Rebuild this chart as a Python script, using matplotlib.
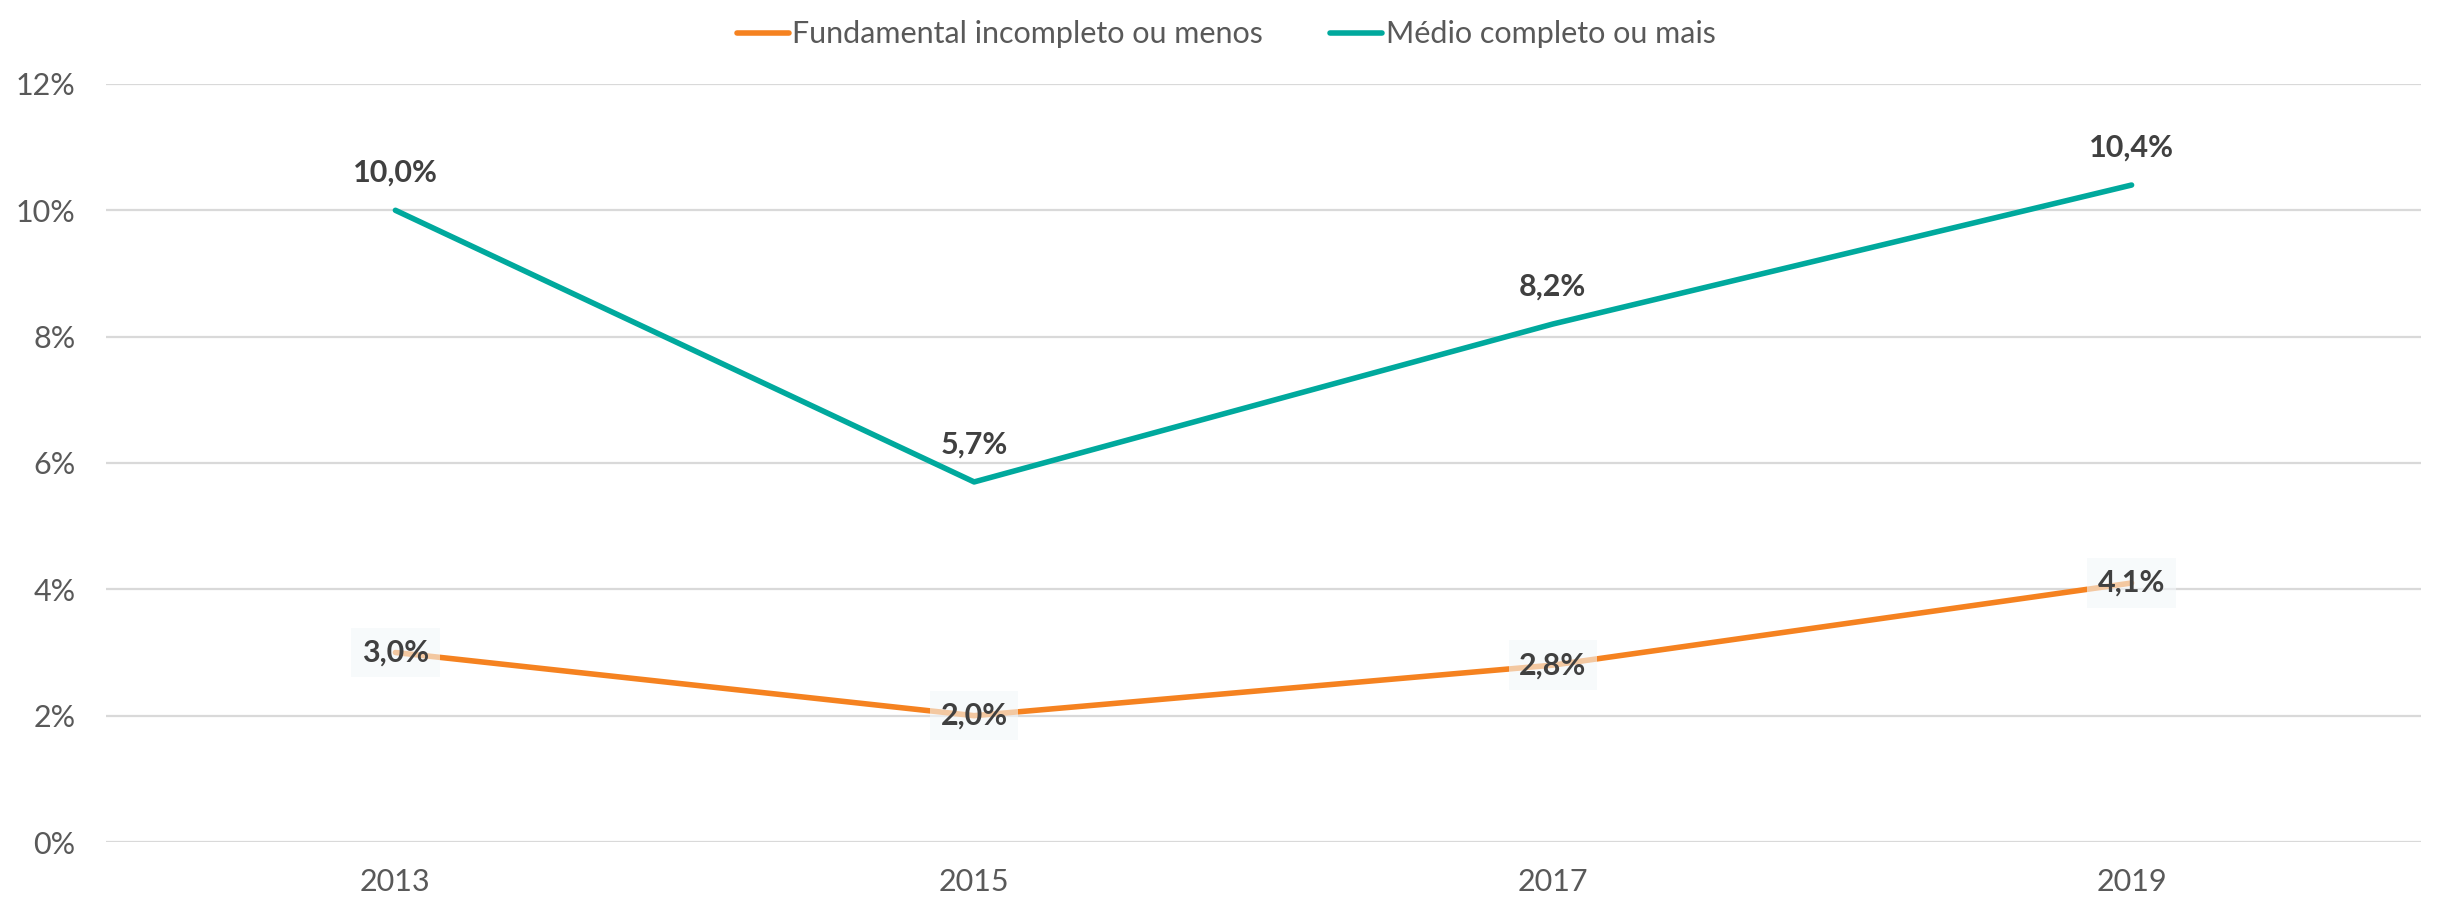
import matplotlib
matplotlib.use("Agg")
import matplotlib.pyplot as plt

anos = ["2013", "2015", "2017", "2019"]
fundamental = [3.0, 2.0, 2.8, 4.1]
medio = [10.0, 5.7, 8.2, 10.4]
rotulo_fund = "Fundamental incompleto ou menos"
rotulo_medio = "Médio completo ou mais"

plt.rcParams['font.family'] = ['Lato', 'DejaVu Sans']

laranja = '#F58220'
verde = '#00A99D'

fig = plt.figure(figsize=(24.38, 8.97), dpi=100)
ax = fig.add_axes([0.0435, 0.0613, 0.9495, 0.8451])

x = list(range(len(anos)))
ax.plot(x, fundamental, color=laranja, lw=4, label=rotulo_fund, solid_capstyle='round', zorder=3)
ax.plot(x, medio, color=verde, lw=4, label=rotulo_medio, solid_capstyle='round', zorder=3)

def fmt(v):
    return f"{v:.1f}%".replace('.', ',')

for xi, v in zip(x, medio):
    ax.annotate(fmt(v), (xi, v), xytext=(0, 27), textcoords='offset points',
                ha='center', va='center', fontsize=22, fontweight='bold', color='#404040', zorder=5)

for xi, v in zip(x, fundamental):
    ax.annotate(fmt(v), (xi, v), xytext=(0, 0), textcoords='offset points',
                ha='center', va='center', fontsize=22, fontweight='bold', color='#404040', zorder=5,
                bbox=dict(boxstyle='square,pad=0.35', facecolor='#f3f7f9', edgecolor='none', alpha=0.6))

ax.set_xlim(-0.5, len(anos) - 0.5)
ax.set_ylim(0, 12)
ax.set_yticks([0, 2, 4, 6, 8, 10, 12])
ax.set_yticklabels([f"{t}%" for t in [0, 2, 4, 6, 8, 10, 12]])
ax.set_xticks(x)
ax.set_xticklabels(anos)
ax.tick_params(axis='y', length=0, pad=22, labelsize=22, labelcolor='#595959')
ax.tick_params(axis='x', length=0, pad=19, labelsize=22, labelcolor='#595959')
ax.grid(axis='y', color='#d9d9d9', lw=1.6, zorder=0)
ax.set_axisbelow(True)
for s in ax.spines.values():
    s.set_visible(False)

fig.legend(loc='upper center', bbox_to_anchor=(0.503, 1.008), ncol=2, frameon=False,
           fontsize=22, labelcolor='#595959', handlelength=1.7, handletextpad=0.12,
           columnspacing=2.2)

fig.savefig("out.png", dpi=100)
plt.close(fig)
